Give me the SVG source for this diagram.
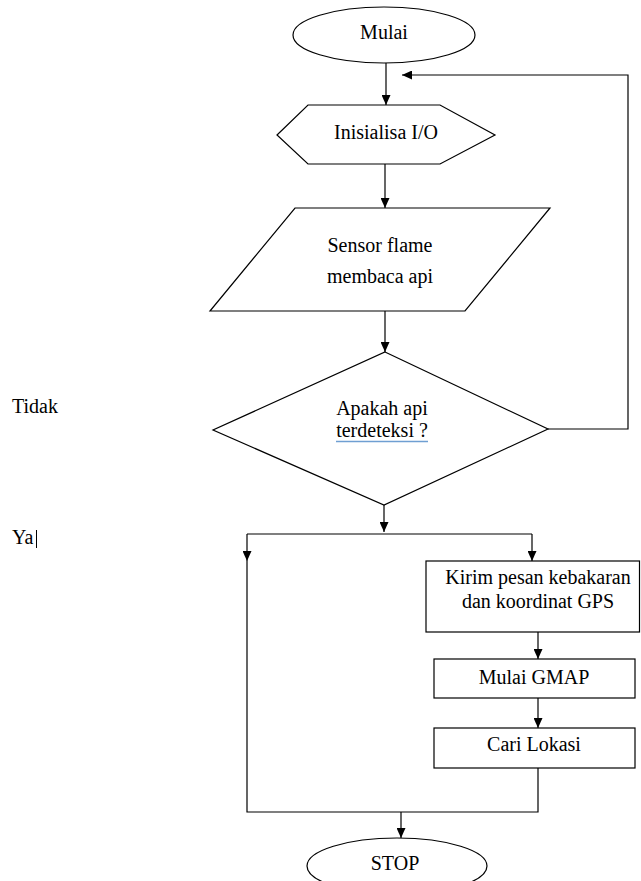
<svg xmlns="http://www.w3.org/2000/svg" width="641" height="881" viewBox="0 0 641 881">
<defs>
<marker id="ah" viewBox="0 0 10 10" refX="10" refY="5" markerWidth="10" markerHeight="9" markerUnits="userSpaceOnUse" orient="auto" preserveAspectRatio="none">
<path d="M0,0 L10,5 L0,10 Z" fill="#000"/>
</marker>
<style>
.s{fill:#fff;stroke:#000;stroke-width:1.2}
.c{fill:none;stroke:#000;stroke-width:1.2}
.t{font-family:"Liberation Serif","Times New Roman",serif;font-size:20px;fill:#000;text-anchor:middle}
.l{font-family:"Liberation Serif","Times New Roman",serif;font-size:20px;fill:#000}
</style>
</defs>
<rect width="641" height="881" fill="#fff"/>
<g id="connectors">
<path class="c" d="M386,63 L386,105" marker-end="url(#ah)"/>
<path class="c" d="M548,429 L628,429 L628,75 L402,75" marker-end="url(#ah)"/>
<path class="c" d="M385,164 L385,208" marker-end="url(#ah)"/>
<path class="c" d="M385,311 L385,352" marker-end="url(#ah)"/>
<path class="c" d="M384,505 L384,532" marker-end="url(#ah)"/>
<path class="c" d="M247,534 L532,534"/>
<path class="c" d="M247,534 L247,561" marker-end="url(#ah)"/>
<path class="c" d="M532,534 L532,561" marker-end="url(#ah)"/>
<path class="c" d="M247,561 L247,812 L538,812 L538,768"/>
<path class="c" d="M538,632 L538,659" marker-end="url(#ah)"/>
<path class="c" d="M538,698 L538,728" marker-end="url(#ah)"/>
<path class="c" d="M401,812 L401,838" marker-end="url(#ah)"/>
</g>
<g id="mulai">
<ellipse class="s" cx="384" cy="35" rx="91" ry="28"/>
<text class="t" x="384" y="39">Mulai</text>
</g>
<g id="inisialisa">
<polygon class="s" points="277,135 308,105 440,105 495,135 440,164 308,164"/>
<text class="t" x="386" y="139">Inisialisa I/O</text>
</g>
<g id="sensor">
<polygon class="s" points="295,208 550,208 465,311 210,311"/>
<text class="t" x="380" y="252">Sensor flame</text>
<text class="t" x="380" y="283">membaca api</text>
</g>
<g id="decision">
<polygon class="s" points="385,352 548,429 384,505 213,430"/>
<text class="t" x="382" y="415">Apakah api</text>
<text class="t" x="382" y="437">terdeteksi ?</text>
<line x1="336" y1="441.5" x2="428" y2="441.5" stroke="#6f9fd2" stroke-width="1.5"/>
</g>
<g id="label-tidak">
<text class="l" x="12" y="413">Tidak</text>
</g>
<g id="label-ya">
<text class="l" x="12" y="544">Ya</text>
<line x1="36.5" y1="530" x2="36.5" y2="548" stroke="#000" stroke-width="1"/>
</g>
<g id="kirim">
<rect class="s" x="426" y="561" width="213.5" height="71"/>
<text class="t" x="538" y="584">Kirim pesan kebakaran</text>
<text class="t" x="538" y="608">dan koordinat GPS</text>
</g>
<g id="gmap">
<rect class="s" x="434" y="659" width="201" height="39"/>
<text class="t" x="534" y="684">Mulai GMAP</text>
</g>
<g id="cari">
<rect class="s" x="434" y="728" width="201" height="40"/>
<text class="t" x="534" y="751">Cari Lokasi</text>
</g>
<g id="stop">
<ellipse class="s" cx="397" cy="866" rx="90" ry="28"/>
<text class="t" x="395" y="870">STOP</text>
</g>
</svg>
